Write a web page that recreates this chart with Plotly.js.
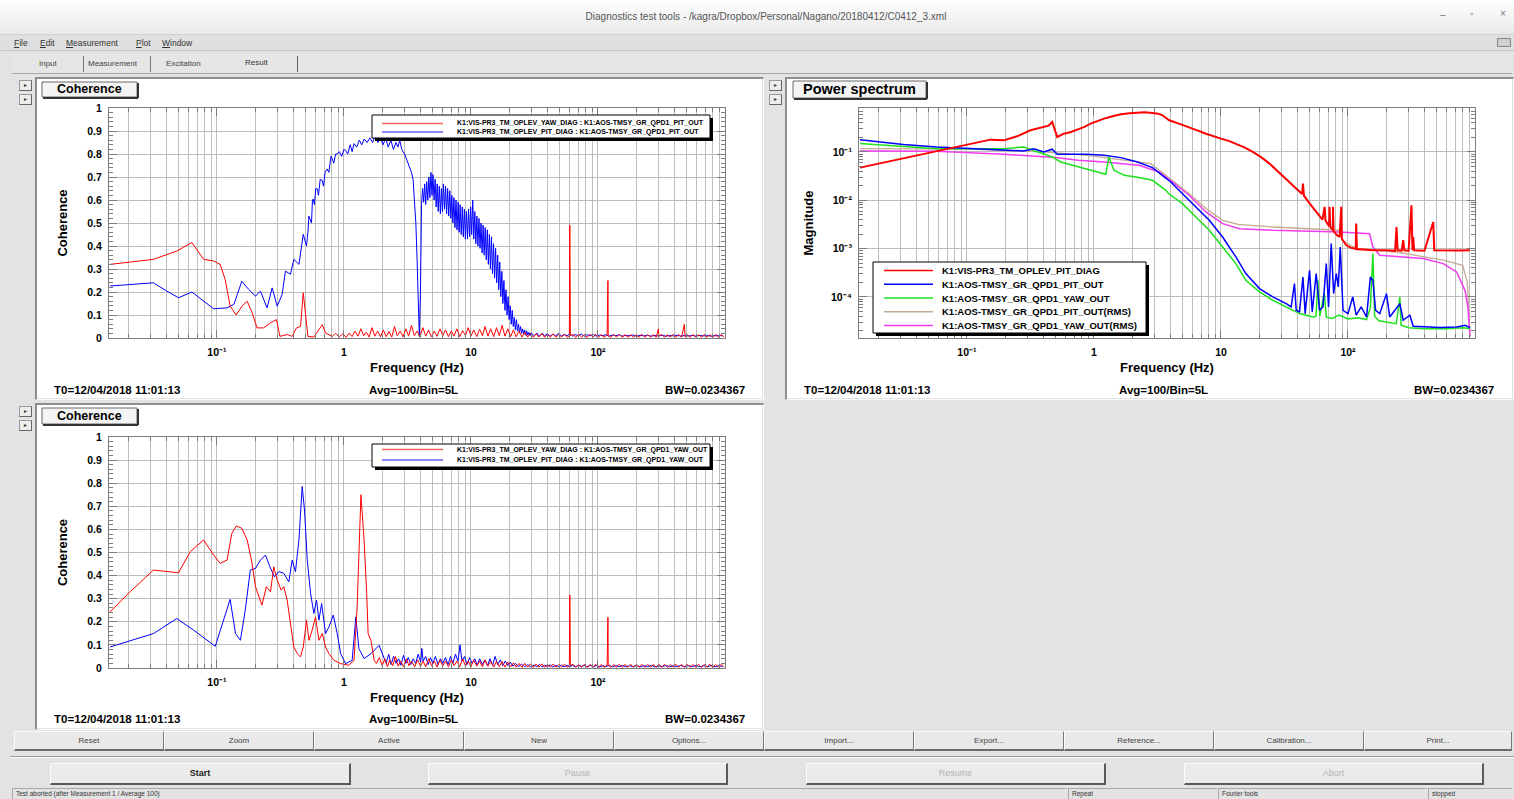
<!DOCTYPE html>
<html>
<head>
<meta charset="utf-8">
<title>Diagnostics test tools</title>
<script src="https://cdn.plot.ly/plotly-3.0.1.min.js"></script>
<style>
  * { box-sizing: border-box; }
  html, body { margin:0; padding:0; }
  body { width:1514px; height:799px; overflow:hidden; position:relative; background:#e3e3e3; font-family:'Liberation Sans', Arial, sans-serif; color:#333; }
  .a { position:absolute; white-space:nowrap; }
  .btn1 { position:absolute; top:731px; height:20px; background:#e9e9e9; border-top:1px solid #fbfbfb; border-left:1px solid #fbfbfb; border-right:1px solid #777; border-bottom:2px solid #6a6a6a; font-size:8px; text-align:center; line-height:17px; color:#444; }
  .btn2 { position:absolute; top:763px; height:22px; background:#ebebeb; border-top:1px solid #fbfbfb; border-left:1px solid #fbfbfb; border-right:2px solid #5a5a5a; border-bottom:2px solid #5a5a5a; font-size:9px; text-align:center; line-height:19px; color:#b4b4b4; }
  .mini { position:absolute; width:13px; height:11px; background:#ededed; border:1px solid #9a9a9a; border-right-color:#666; border-bottom-color:#666; font-size:6px; line-height:9px; text-align:center; color:#333; }
  .frame { position:absolute; border-top:2px solid #8e8e8e; border-left:2px solid #8e8e8e; border-right:1px solid #fafafa; border-bottom:1px solid #fafafa; }
  .plot { position:absolute; background:#fff; }
  .status { position:absolute; top:788px; height:11px; font-size:6.5px; line-height:10px; color:#333; border-top:1px solid #a8a8a8; border-left:1px solid #a8a8a8; padding-left:3px; white-space:nowrap; overflow:hidden; }
</style>
</head>
<body>
<!-- window title bar -->
<div class="a" style="left:0;top:0;width:1514px;height:35px;background:linear-gradient(#ffffff,#e9e9e9);border-bottom:1px solid #d2d2d2;"></div>
<div class="a" style="left:0;top:11px;width:1532px;text-align:center;font-size:10px;color:#555;">Diagnostics test tools - /kagra/Dropbox/Personal/Nagano/20180412/C0412_3.xml</div>
<div class="a" style="left:1440px;top:9px;font-size:10px;color:#777;">–</div>
<div class="a" style="left:1470px;top:9px;font-size:9px;color:#777;">▫</div>
<div class="a" style="left:1500px;top:8px;font-size:10px;color:#777;">×</div>
<!-- menu bar -->
<div class="a" style="left:0;top:35px;width:1514px;height:16px;background:#dfdfdf;border-bottom:1px solid #c6c6c6;"></div>
<div class="a" style="left:14px;top:38px;font-size:8.5px;color:#333;"><u>F</u>ile</div>
<div class="a" style="left:40px;top:38px;font-size:8.5px;color:#333;"><u>E</u>dit</div>
<div class="a" style="left:66px;top:38px;font-size:8.5px;color:#333;"><u>M</u>easurement</div>
<div class="a" style="left:136px;top:38px;font-size:8.5px;color:#333;"><u>P</u>lot</div>
<div class="a" style="left:162px;top:38px;font-size:8.5px;color:#333;"><u>W</u>indow</div>
<div class="a" style="left:1497px;top:38px;width:14px;height:9px;border:1px solid #888;background:#d0d0d0;"></div>
<!-- tabs -->
<div class="a" style="left:12px;top:53px;width:1500px;height:21px;background:#e6e6e6;border-bottom:1px solid #a8a8a8;"></div>
<div class="a" style="left:39px;top:59px;font-size:8px;color:#444;">Input</div>
<div class="a" style="left:83px;top:56px;width:1px;height:16px;background:#777;"></div>
<div class="a" style="left:88px;top:59px;font-size:8px;color:#444;">Measurement</div>
<div class="a" style="left:150px;top:56px;width:1px;height:16px;background:#777;"></div>
<div class="a" style="left:166px;top:59px;font-size:8px;color:#444;">Excitation</div>
<div class="a" style="left:245px;top:58px;font-size:8px;color:#333;">Result</div>
<div class="a" style="left:297px;top:56px;width:1px;height:16px;background:#666;"></div>

<!-- canvas frames and mini buttons -->
<div class="frame" style="left:35px;top:77px;width:729px;height:323px;"></div>
<div class="frame" style="left:785px;top:77px;width:729px;height:323px;"></div>
<div class="frame" style="left:35px;top:403px;width:729px;height:327px;"></div>
<div class="mini" style="left:19px;top:80px;">▸</div>
<div class="mini" style="left:19px;top:94px;">▸</div>
<div class="mini" style="left:769px;top:80px;">▸</div>
<div class="mini" style="left:769px;top:94px;">▸</div>
<div class="mini" style="left:19px;top:406px;">▸</div>
<div class="mini" style="left:19px;top:420px;">▸</div>

<div id="p1" class="plot" style="left:37px;top:79px;width:725px;height:319px;"></div>
<div id="p2" class="plot" style="left:787px;top:79px;width:725px;height:319px;"></div>
<div id="p3" class="plot" style="left:37px;top:405px;width:725px;height:323px;"></div>

<!-- button rows -->
<div class="btn1" style="left:14px;width:150px;">Reset</div>
<div class="btn1" style="left:164px;width:150px;">Zoom</div>
<div class="btn1" style="left:314px;width:150px;">Active</div>
<div class="btn1" style="left:464px;width:150px;">New</div>
<div class="btn1" style="left:614px;width:150px;">Options...</div>
<div class="btn1" style="left:764px;width:150px;">Import...</div>
<div class="btn1" style="left:914px;width:150px;">Export...</div>
<div class="btn1" style="left:1064px;width:150px;">Reference...</div>
<div class="btn1" style="left:1214px;width:150px;">Calibration...</div>
<div class="btn1" style="left:1364px;width:148px;">Print...</div>
<div class="a" style="left:10px;top:756px;width:1504px;height:2px;border-top:1px solid #9a9a9a;border-bottom:1px solid #fafafa;"></div>
<div class="btn2" style="left:50px;width:301px;color:#222;font-weight:bold;">Start</div>
<div class="btn2" style="left:428px;width:300px;">Pause</div>
<div class="btn2" style="left:806px;width:300px;">Resume</div>
<div class="btn2" style="left:1184px;width:300px;">Abort</div>
<!-- status bar -->
<div class="status" style="left:12px;width:1055px;">Test aborted (after Measurement 1 / Average 100)</div>
<div class="status" style="left:1068px;width:149px;">Repeat</div>
<div class="status" style="left:1218px;width:209px;">Fourier tools</div>
<div class="status" style="left:1428px;width:84px;">stopped</div>

<script>
// ---------------- data ----------------
// Top coherence panel
const coh1_f_red = [
  0.0144,0.0316,0.0483,0.0635,0.0785,0.0942,0.106,0.116,0.127,0.142,
  0.157,0.173,0.189,0.207,0.233,0.264,0.294,0.313,0.357,0.391,
  0.423,0.455,0.478,0.498,0.520,0.579,0.675,0.716,0.809,
  0.86,0.92,0.98,1.04,1.1,1.16,1.22,1.29,1.36,1.43,
  1.5,1.58,1.66,1.75,1.84,1.94,2.04,2.15,2.26,2.38,
  2.5,2.63,2.77,2.92,3.07,3.23,3.4,3.58,3.77,3.97,
  4.18,4.4,4.63,4.88,5.14,5.41,5.7,6.0,6.3,6.65,
  7.0,7.35,7.75,8.15,8.6,9.05,9.5,10,10.5,11.1,
  11.7,12.3,12.9,13.6,14.3,15.1,15.9,16.7,17.6,18.5,
  19.5,20.5,21.6,22.7,23.9,25.2,26.5,27.9,29.4,
  31,32.6,34.3,36.1,38,40,42.1,44.3,46.7,49.2,
  51.8,54.5,57.4,59.5,60,60.6,63.6,67,70.5,74.3,
  78.2,82.3,86.7,91.3,96.1,101,106,112,118,119.7,
  120.4,126,133,140,147,155,163,172,181,190,
  200,211,222,234,246,259,273,287,299,302,
  318,335,352,371,390,411,433,455,479,485,
  505,531,559,589,620,653,687,723,761,801,
  843,888,935,985];
const coh1_red = [
  0.32,0.342,0.378,0.415,0.342,0.335,0.32,0.255,0.138,0.10,
  0.138,0.16,0.11,0.044,0.044,0.066,0.08,0.007,0.015,0.007,
  0.044,0.05,0.197,0.11,0.007,0.004,0.058,0.022,0.007,
  0.02,0.005,0.018,0.003,0.022,0.006,0.03,0.008,0.04,0.01,
  0.025,0.004,0.045,0.008,0.03,0.005,0.035,0.006,0.028,0.004,
  0.05,0.01,0.03,0.005,0.04,0.008,0.055,0.01,0.03,0.006,
  0.045,0.008,0.035,0.005,0.03,0.007,0.04,0.01,0.035,0.006,
  0.03,0.008,0.04,0.006,0.032,0.01,0.045,0.008,0.035,0.006,
  0.038,0.01,0.05,0.008,0.04,0.006,0.045,0.01,0.055,0.008,
  0.04,0.006,0.035,0.005,0.03,0.004,0.025,0.004,0.02,
  0.003,0.018,0.004,0.02,0.003,0.016,0.004,0.018,0.003,0.015,
  0.004,0.017,0.003,0.01,0.49,0.01,0.015,0.003,0.016,0.004,
  0.014,0.003,0.016,0.004,0.015,0.003,0.014,0.004,0.012,0.25,
  0.01,0.003,0.015,0.004,0.016,0.003,0.014,0.004,0.015,0.003,
  0.014,0.004,0.016,0.003,0.014,0.004,0.015,0.003,0.04,0.008,
  0.015,0.003,0.014,0.004,0.016,0.003,0.014,0.004,0.06,0.005,
  0.014,0.003,0.015,0.004,0.014,0.003,0.015,0.004,0.014,0.003,
  0.015,0.004,0.014,0.005];

const coh1_f_blue = [
  0.0144,0.0316,0.0403,0.0498,0.0635,0.0762,0.0942,0.12,0.136,0.157,
  0.178,0.201,0.22,0.248,0.272,0.298,0.326,0.346,0.379,0.403,
  0.442,0.478,0.507,0.52,0.53,0.54,0.555,0.565,0.573,0.585,
  0.6,0.617,0.63,0.65,0.675,0.69,0.71,0.738,0.76,0.79,
  0.809,0.83,0.86,0.885,0.92,0.96,1.0,1.03,1.07,1.12,
  1.16,1.2,1.26,1.32,1.38,1.44,1.52,1.6,1.68,1.76,
  1.85,1.94,2.03,2.13,2.23,2.34,2.45,2.57,2.66,2.75,
  2.85,3.0,3.1,3.2,3.3,3.4,3.5,3.6,3.68,3.76,
  3.85,3.92,4.0,4.05,
  4.08,4.16,4.24,4.32,4.4,4.48,4.57,4.66,4.75,4.84,
  4.93,5.02,5.12,5.22,5.32,5.42,5.52,5.63,5.74,5.85,
  5.96,6.07,6.19,6.31,6.43,6.55,6.68,6.81,6.94,7.07,
  7.2,7.34,7.48,7.62,7.77,7.92,8.07,8.22,8.38,8.54,
  8.7,8.87,9.04,9.21,9.39,9.57,9.75,9.94,10.13,10.32,
  10.52,10.72,10.92,11.13,11.34,11.56,11.78,12.0,12.23,12.46,
  12.7,12.94,13.19,13.44,13.7,13.96,14.22,14.49,14.77,15.05,
  15.34,15.63,15.93,16.23,16.54,16.85,17.17,17.5,17.83,18.17,
  18.52,18.87,19.23,19.6,19.97,20.35,20.74,21.13,21.53,21.94,
  22.36,22.79,23.22,23.66,24.11,24.57,25.04,25.52,26.0,26.5,
  27.0,27.5,28.0,28.6,29.2,29.8,
  31.5,33,34.6,36.3,38,40,42,44,46.5,49,
  51.5,54,57,60,63,66,70,74,78,82,
  87,92,97,103,109,115,122,130,138,147,
  156,166,177,189,201,215,230,246,263,281,
  300,321,343,367,393,420,450,482,516,553,
  592,634,679,727,779,834,893,956];
const coh1_blue = [
  0.226,0.24,0.204,0.175,0.2,0.167,0.127,0.131,0.146,0.247,
  0.211,0.182,0.204,0.131,0.218,0.138,0.189,0.291,0.277,0.342,
  0.32,0.451,0.40,0.46,0.53,0.517,0.50,0.6,0.604,0.58,
  0.65,0.648,0.62,0.69,0.684,0.66,0.72,0.735,0.72,0.79,
  0.779,0.76,0.80,0.80,0.81,0.79,0.82,0.815,0.80,0.84,
  0.81,0.845,0.83,0.86,0.84,0.865,0.85,0.87,0.85,0.88,
  0.85,0.87,0.84,0.87,0.83,0.86,0.82,0.85,0.83,0.86,
  0.82,0.80,0.78,0.76,0.74,0.72,0.69,0.6,0.5,0.35,
  0.2,0.007,0.2,0.55,
  0.58,0.65,0.59,0.67,0.58,0.68,0.6,0.7,0.61,0.72,
  0.62,0.71,0.6,0.69,0.57,0.67,0.55,0.66,0.54,0.65,
  0.55,0.67,0.56,0.66,0.54,0.65,0.53,0.64,0.52,0.62,
  0.5,0.61,0.48,0.6,0.47,0.59,0.46,0.58,0.45,0.57,
  0.44,0.56,0.43,0.55,0.43,0.56,0.44,0.57,0.45,0.6,
  0.43,0.55,0.41,0.53,0.4,0.52,0.39,0.5,0.37,0.49,
  0.36,0.48,0.34,0.47,0.32,0.45,0.3,0.44,0.28,0.41,
  0.26,0.39,0.24,0.36,0.21,0.33,0.18,0.29,0.15,0.25,
  0.12,0.21,0.1,0.18,0.08,0.14,0.06,0.12,0.05,0.09,
  0.035,0.08,0.03,0.06,0.025,0.05,0.02,0.04,0.015,0.035,
  0.012,0.03,0.012,0.025,0.01,0.022,
  0.01,0.022,0.008,0.02,0.01,0.018,0.008,0.016,0.009,0.02,
  0.008,0.015,0.01,0.018,0.008,0.015,0.01,0.017,0.008,0.014,
  0.01,0.015,0.008,0.013,0.01,0.014,0.008,0.013,0.01,0.014,
  0.008,0.012,0.009,0.013,0.008,0.012,0.009,0.012,0.008,0.011,
  0.009,0.012,0.008,0.011,0.009,0.012,0.008,0.011,0.009,0.011,
  0.008,0.011,0.009,0.011,0.008,0.01,0.009,0.01];

// Bottom coherence panel
const coh2_f_red = [
  0.0144,0.0207,0.0316,0.0403,0.0498,0.0617,0.0785,0.0942,0.106,0.12,
  0.131,0.142,0.157,0.173,0.189,0.201,0.213,0.226,0.245,0.264,
  0.28,0.298,0.32,0.336,0.357,0.379,0.403,0.429,0.455,0.478,
  0.507,0.53,0.562,0.597,0.635,0.675,0.716,0.762,0.834,0.942,
  1.09,1.2,1.27,1.36,1.44,1.51,1.55,1.63,1.73,
  1.8,1.9,2.0,2.1,2.2,2.3,2.42,2.54,2.67,2.8,
  2.95,3.1,3.25,3.4,3.6,3.8,4.0,4.2,4.4,4.65,
  4.9,5.15,5.4,5.7,6.0,6.3,6.65,7.0,7.35,7.75,
  8.15,8.6,9.05,9.5,10,10.5,11.1,11.7,12.3,12.9,
  13.6,14.3,15.1,15.9,16.7,17.6,18.5,19.5,20.5,21.6,
  22.7,23.9,25.2,26.5,27.9,29.4,31,32.6,34.3,36.1,
  38,40,42.1,44.3,46.7,49.2,51.8,54.5,57.4,
  59.5,60,60.6,63.6,67,70.5,74.3,78.2,82.3,86.7,
  91.3,96.1,101,106,112,118,119.7,120.4,126,133,
  140,147,155,163,172,181,190,200,211,222,
  234,246,259,273,287,302,318,335,352,371,
  390,411,433,455,479,505,531,559,589,620,
  653,687,723,761,801,843,888,935,985];
const coh2_red = [
  0.243,0.33,0.424,0.417,0.412,0.504,0.554,0.489,0.453,0.467,
  0.583,0.615,0.605,0.554,0.453,0.352,0.308,0.272,0.352,0.33,
  0.438,0.381,0.337,0.352,0.294,0.192,0.091,0.062,0.048,0.091,
  0.207,0.12,0.164,0.221,0.12,0.149,0.091,0.062,0.033,0.019,
  0.012,0.033,0.265,0.75,0.554,0.323,0.149,0.12,0.033,
  0.02,0.045,0.01,0.04,0.005,0.035,0.01,0.05,0.008,0.03,
  0.005,0.04,0.01,0.03,0.005,0.035,0.008,0.03,0.005,0.04,
  0.01,0.03,0.004,0.035,0.008,0.03,0.005,0.035,0.01,0.03,
  0.005,0.04,0.008,0.03,0.005,0.035,0.008,0.03,0.005,0.035,
  0.008,0.03,0.004,0.03,0.006,0.028,0.004,0.025,0.005,0.022,
  0.004,0.02,0.003,0.02,0.004,0.018,0.003,0.017,0.004,0.018,
  0.003,0.016,0.004,0.017,0.003,0.016,0.004,0.017,0.003,
  0.012,0.316,0.01,0.016,0.003,0.015,0.004,0.016,0.003,0.015,
  0.004,0.016,0.003,0.015,0.004,0.013,0.22,0.012,0.003,0.015,
  0.004,0.016,0.003,0.015,0.004,0.016,0.003,0.015,0.004,0.016,
  0.003,0.015,0.004,0.016,0.003,0.015,0.004,0.016,0.003,0.015,
  0.004,0.016,0.003,0.015,0.004,0.016,0.003,0.015,0.004,0.016,
  0.003,0.015,0.004,0.016,0.003,0.015,0.004,0.016,0.005];

const coh2_f_blue = [
  0.0144,0.0316,0.0483,0.0655,0.097,0.113,0.127,0.14,0.153,0.167,
  0.183,0.201,0.22,0.241,0.261,0.284,0.307,0.336,0.368,0.391,
  0.415,0.442,0.469,0.489,0.514,0.546,0.579,0.608,0.635,0.667,
  0.716,0.762,0.824,0.885,0.942,1.03,1.16,1.24,1.31,1.44,
  1.63,1.89,2.07,
  2.15,2.25,2.35,2.46,2.57,2.69,2.81,2.94,3.07,3.21,
  3.36,3.51,3.67,3.84,4.02,4.1,4.2,4.4,4.6,4.8,
  5.0,5.25,5.5,5.75,6.0,6.3,6.6,6.9,7.2,7.55,
  7.9,8.2,8.5,8.9,9.3,9.75,10.2,10.7,11.2,11.7,
  12.3,12.9,13.5,14.1,14.8,15.5,16.2,17,17.8,18.6,
  19.5,20.4,21.4,22.4,23.5,
  25,26.5,28,29.5,31.5,33,34.6,36.3,38,40,
  42,44,46.5,49,51.5,54,57,60,63,66,
  70,74,78,82,87,92,97,103,109,115,
  122,130,138,147,156,166,177,189,201,215,
  230,246,263,281,300,321,343,367,393,420,
  450,482,516,553,592,634,679,727,779,834,
  893,956];
const coh2_blue = [
  0.091,0.149,0.214,0.164,0.094,0.207,0.297,0.149,0.12,0.25,
  0.424,0.431,0.467,0.489,0.438,0.395,0.417,0.41,0.373,0.467,
  0.417,0.554,0.786,0.684,0.467,0.323,0.236,0.294,0.207,0.279,
  0.149,0.178,0.229,0.149,0.062,0.019,0.033,0.221,0.084,0.041,
  0.062,0.098,0.041,
  0.02,0.06,0.015,0.05,0.02,0.04,0.012,0.055,0.02,0.045,
  0.015,0.04,0.02,0.06,0.025,0.085,0.03,0.05,0.015,0.045,
  0.02,0.05,0.015,0.04,0.02,0.045,0.015,0.05,0.02,0.06,
  0.03,0.1,0.03,0.05,0.015,0.045,0.02,0.04,0.012,0.04,
  0.015,0.035,0.01,0.04,0.012,0.05,0.015,0.035,0.01,0.03,
  0.01,0.025,0.008,0.02,0.006,
  0.016,0.006,0.014,0.005,0.013,0.006,0.015,0.005,0.012,0.006,
  0.014,0.005,0.012,0.006,0.013,0.005,0.012,0.006,0.011,0.005,
  0.012,0.006,0.011,0.005,0.012,0.006,0.011,0.005,0.01,0.006,
  0.011,0.005,0.01,0.006,0.011,0.005,0.01,0.006,0.011,0.005,
  0.01,0.006,0.011,0.005,0.01,0.006,0.011,0.005,0.01,0.006,
  0.011,0.005,0.01,0.006,0.011,0.005,0.01,0.006,0.011,0.005,
  0.01,0.006];

// Power spectrum panel
const psd_f_red = [
  0.0144,0.0233,0.0379,0.0579,0.0834,0.12,0.153,0.195,0.248,0.316,
  0.403,0.44,0.469,0.49,0.514,0.579,0.66,0.738,0.84,0.942,
  1.07,1.2,1.4,1.63,1.9,2.2,2.5,2.89,3.2,3.46,
  3.7,3.91,4.6,5.62,6.5,7.62,8.7,10,11.5,13.1,
  15.3,17.8,20.7,24.1,28,32.6,38,43.5,44.2,45,
  50,56.2,63,65.5,66.5,71,71.6,72.5,76,76.2,
  77,82,85.9,88.5,89.5,97,105,115,116,117.5,
  130,157,200,235,241,246,265,272,278,300,
  316,322,326,332,400,469,478,600,750,912];
const psd_red = [
  0.0474,0.0621,0.0813,0.105,0.127,0.153,0.18,0.174,0.211,0.281,
  0.329,0.35,0.418,0.3,0.204,0.239,0.26,0.29,0.33,0.385,
  0.44,0.49,0.55,0.601,0.63,0.652,0.66,0.641,0.62,0.574,
  0.5,0.452,0.39,0.329,0.28,0.239,0.21,0.189,0.17,0.149,
  0.125,0.1,0.078,0.0574,0.04,0.0281,0.0185,0.0135,0.0221,0.0125,
  0.0085,0.00574,0.004,0.0073,0.0038,0.0029,0.0073,0.0028,0.0024,0.0073,
  0.0023,0.0019,0.00174,0.0073,0.0016,0.00117,0.00105,0.00098,0.00329,0.00098,
  0.00095,0.00092,0.00093,0.0009,0.0028,0.00092,0.00091,0.0015,0.00092,0.0009,
  0.00789,0.00093,0.00174,0.00092,0.0009,0.00356,0.00092,0.0009,0.00091,0.00092];

const psd_f_blue = [
  0.0144,0.0316,0.0579,0.106,0.195,0.28,0.336,0.403,0.469,0.514,
  0.655,0.885,1.2,1.63,2.2,2.89,3.57,4.03,4.98,6.35,
  8.09,10.3,13.1,15.7,20.1,25.6,28.9,32.6,35.7,37.9,
  39.1,41.5,44.2,46,49.8,52.3,56.2,59.7,63.5,67.5,
  70.3,73.8,77.1,80.9,83.9,86.9,91.4,100,109,116,
  127,140,150,157,165,178,201,213,234,256,
  272,307,326,391,530,716,834,914];
const psd_blue = [
  0.18,0.142,0.127,0.117,0.108,0.105,0.117,0.1,0.114,0.0895,
  0.0895,0.0895,0.0853,0.0764,0.0621,0.0474,0.0304,0.0239,0.0137,0.00728,
  0.00385,0.00174,0.000673,0.000304,0.000149,0.0001,8.53e-5,7.28e-5,6.21e-5,1.89e-4,
  5.3e-5,4.9e-5,2.59e-4,4.52e-5,3.56e-4,4.9e-5,3.04e-4,5.3e-5,6.21e-5,4.9e-4,
  6.21e-5,1.27e-3,1.17e-4,3.04e-4,1.61e-4,1.08e-3,5.3e-5,4.52e-5,1e-4,4.18e-5,
  6.21e-5,3.85e-5,2.59e-4,2.21e-4,5.3e-5,4.52e-5,1.17e-4,3.85e-5,5.3e-5,7.28e-5,
  3.29e-5,4.18e-5,2.47e-5,2.4e-5,2.32e-5,2.4e-5,2.59e-5,2.32e-5];

const psd_f_green = [
  0.0144,0.0316,0.0579,0.106,0.195,0.28,0.357,0.469,0.546,0.738,
  1.13,1.24,1.31,1.44,1.73,2.2,2.89,3.68,3.9,4.03,
  4.98,6.35,8.09,10.3,13.1,15.7,20.1,25.6,32.6,41.5,
  53,56,58,60,65,67.5,75,85,100,120,
  140,150,157,162,175,200,240,250,256,262,
  300,400,600,800,914];
const psd_green = [
  0.149,0.131,0.117,0.117,0.117,0.127,0.1,0.0789,0.0621,0.0505,
  0.0368,0.0345,0.0789,0.0418,0.0329,0.03,0.0259,0.0161,0.0135,0.0127,
  0.00853,0.00452,0.00239,0.00108,0.00049,0.000221,0.000127,8.53e-5,6.21e-5,4.52e-5,
  3.85e-5,4e-5,2.21e-4,4e-5,1.2e-4,3.8e-5,3.6e-5,4.2e-5,3.5e-5,3.7e-5,
  3.4e-5,6e-5,7.89e-4,4e-5,3.2e-5,3e-5,2.8e-5,6e-5,1e-4,2.6e-5,
  2.3e-5,2.2e-5,2.2e-5,2.3e-5,2.21e-5];

const psd_f_tan = [
  0.0144,0.106,0.403,0.885,2.8,3.26,4.15,5.62,7.62,10.3,
  13.6,25.6,85.9,90,116,241,562,800,870,912];
const psd_tan = [
  0.117,0.114,0.1,0.0853,0.0574,0.0417,0.0259,0.0137,0.00673,0.00385,
  0.00316,0.0028,0.0024,0.00148,0.001,0.000851,0.000575,0.00045,0.0002,1.9e-5];

const psd_f_mag = [
  0.0144,0.0579,0.195,0.494,0.754,1.2,2.26,3.26,4.15,5.62,
  7.62,10.3,14,25.6,85.9,148,157,178,391,562,
  716,834,880,914];
const psd_mag = [
  0.105,0.103,0.0895,0.0764,0.0673,0.0621,0.053,0.0385,0.0239,0.0127,
  0.00574,0.00329,0.00259,0.0024,0.00221,0.00204,0.00108,0.000728,0.000621,0.00049,
  0.000329,0.000137,6e-5,1.49e-5];

// labels
const COH_TOP_NAMES = ['K1:VIS-PR3_TM_OPLEV_YAW_DIAG : K1:AOS-TMSY_GR_QPD1_PIT_OUT',
                       'K1:VIS-PR3_TM_OPLEV_PIT_DIAG : K1:AOS-TMSY_GR_QPD1_PIT_OUT'];
const COH_BOT_NAMES = ['K1:VIS-PR3_TM_OPLEV_YAW_DIAG : K1:AOS-TMSY_GR_QPD1_YAW_OUT',
                       'K1:VIS-PR3_TM_OPLEV_PIT_DIAG : K1:AOS-TMSY_GR_QPD1_YAW_OUT'];
const PSD_NAMES = ['K1:VIS-PR3_TM_OPLEV_PIT_DIAG','K1:AOS-TMSY_GR_QPD1_PIT_OUT','K1:AOS-TMSY_GR_QPD1_YAW_OUT',
                   'K1:AOS-TMSY_GR_QPD1_PIT_OUT(RMS)','K1:AOS-TMSY_GR_QPD1_YAW_OUT(RMS)'];
const FREQ_TICKS = [0.1, 1, 10, 100];
const FREQ_TICK_TEXT = ['10\u207B\u00B9','1','10','10\u00B2'];
const MAG_TICKS = [1e-4, 1e-3, 1e-2, 1e-1];
const MAG_TICK_TEXT = ['10\u207B\u2074','10\u207B\u00B3','10\u207B\u00B2','10\u207B\u00B9'];
const INFO_T0 = 'T0=12/04/2018 11:01:13';
const INFO_AVG = 'Avg=100/Bin=5L';
const INFO_BW = 'BW=0.0234367';

// ---------------- styling ----------------
const FONT = 'Liberation Sans, Arial, sans-serif';
const GRID = '#bdbdbd';
const FRAME = '#7c7c7c';
const RED = '#ff0000', BLUE = '#0000ff', GREEN = '#1ee01e', TAN = '#c4ab92', MAG = '#f03cf0';

function minorLog(lo, hi){ const v=[]; for(let d=lo; d<=hi; d++) for(let k=2;k<=9;k++) v.push(k*Math.pow(10,d)); return v; }
function tfont(s){ return {family:FONT, size:s, color:'#000', weight:'bold'}; }

function xAxis(){
  return {type:'log', range:[-1.85, 3.0], autorange:false,
    tickmode:'array', tickvals:FREQ_TICKS, ticktext:FREQ_TICK_TEXT,
    ticks:'inside', ticklen:8, tickwidth:1, tickcolor:FRAME,
    showline:true, linecolor:FRAME, linewidth:1, mirror:'allticks',
    showgrid:true, gridcolor:GRID, gridwidth:1, zeroline:false,
    ticklabelstandoff:4, tickfont:tfont(10.5),
    minor:{tickmode:'array', tickvals:minorLog(-2,2), ticks:'inside', ticklen:4, tickcolor:FRAME, showgrid:true, gridcolor:GRID, gridwidth:1},
    title:{text:'Frequency (Hz)', font:tfont(13), standoff:6},
    automargin:false, fixedrange:true};
}
function yCoh(){
  return {range:[0,1], autorange:false, tickmode:'linear', tick0:0, dtick:0.1,
    ticks:'inside', ticklen:8, tickcolor:FRAME,
    showline:true, linecolor:FRAME, linewidth:1, mirror:'allticks',
    showgrid:true, gridcolor:GRID, gridwidth:1, zeroline:false,
    ticklabelstandoff:4, tickfont:tfont(10.5),
    minor:{tick0:0, dtick:0.02, ticks:'inside', ticklen:4, tickcolor:FRAME, showgrid:false},
    title:{text:'Coherence', font:tfont(13), standoff:16},
    automargin:false, fixedrange:true};
}
function yMag(){
  return {type:'log', range:[-4.85,-0.09], autorange:false,
    tickmode:'array', tickvals:MAG_TICKS, ticktext:MAG_TICK_TEXT,
    ticks:'inside', ticklen:8, tickcolor:FRAME,
    showline:true, linecolor:FRAME, linewidth:1, mirror:'allticks',
    showgrid:true, gridcolor:GRID, gridwidth:1, zeroline:false,
    ticklabelstandoff:4, tickfont:tfont(10.5),
    minor:{tickmode:'array', tickvals:minorLog(-5,-1), ticks:'inside', ticklen:4, tickcolor:FRAME, showgrid:false},
    title:{text:'Magnitude', font:tfont(13), standoff:14},
    automargin:false, fixedrange:true};
}

function conv(p){
  const pw = p.W - p.m.l - p.m.r, ph = p.H - p.m.t - p.m.b;
  return { x: ax => (ax - p.left - p.m.l)/pw, y: ay => 1 - (ay - p.top - p.m.t)/ph };
}
function R(c, x0, y0, x1, y1, fill, line){
  return {type:'rect', xref:'paper', yref:'paper', x0:c.x(x0), x1:c.x(x1), y0:c.y(y0), y1:c.y(y1), fillcolor:fill, line:line, layer:'above'};
}
function L(c, x0, y0, x1, y1, color, w){
  return {type:'line', xref:'paper', yref:'paper', x0:c.x(x0), x1:c.x(x1), y0:c.y(y0), y1:c.y(y1), line:{color:color, width:w}, layer:'above'};
}
function titleBox(c, b, text, size, shapes, anns){
  shapes.push(R(c, b.x0, b.y0, b.x1, b.y1, '#f4f4f4', {color:'#6a6a6a', width:1}));
  shapes.push(L(c, b.x0+1, b.y1+1, b.x1+1, b.y1+1, '#333', 2));
  shapes.push(L(c, b.x1+1, b.y0+1, b.x1+1, b.y1+1, '#333', 2));
  anns.push({xref:'paper', yref:'paper', x:c.x((b.x0+b.x1)/2), y:c.y((b.y0+b.y1)/2), xanchor:'center', yanchor:'middle', text:text, showarrow:false, font:tfont(size)});
}
function legendBox(c, g, items, shapes, anns){
  shapes.push(R(c, g.x0+3, g.y0+3, g.x1+3, g.y1+3, '#000', {width:0}));
  shapes.push(R(c, g.x0, g.y0, g.x1, g.y1, '#fff', {color:'#000', width:1}));
  items.forEach((it, i) => {
    const y = g.ys[i];
    shapes.push(L(c, g.lx0, y, g.lx1, y, it.color, g.lw));
    anns.push({xref:'paper', yref:'paper', x:c.x(g.tx), y:c.y(y), xanchor:'left', yanchor:'middle', text:it.label, showarrow:false, font:tfont(g.fs)});
  });
}
function infoTexts(c, yAbs, xs, anns){
  anns.push({xref:'paper', yref:'paper', x:c.x(xs[0]), y:c.y(yAbs), xanchor:'left', yanchor:'middle', text:INFO_T0, showarrow:false, font:tfont(11.5)});
  anns.push({xref:'paper', yref:'paper', x:c.x(xs[1]), y:c.y(yAbs), xanchor:'center', yanchor:'middle', text:INFO_AVG, showarrow:false, font:tfont(11.5)});
  anns.push({xref:'paper', yref:'paper', x:c.x(xs[2]), y:c.y(yAbs), xanchor:'right', yanchor:'middle', text:INFO_BW, showarrow:false, font:tfont(11.5)});
}
function line(x, y, name, color, w){
  return {type:'scatter', mode:'lines', x:x, y:y, name:name, line:{color:color, width:w}, hoverinfo:'skip'};
}
function render(id, p, traces, yaxis, tb, tbText, tbSize, lg, items, infoY, infoX){
  const c = conv(p); const shapes = [], anns = [];
  titleBox(c, tb, tbText, tbSize, shapes, anns);
  legendBox(c, lg, items, shapes, anns);
  infoTexts(c, infoY, infoX, anns);
  Plotly.newPlot(id, traces, {
    width:p.W, height:p.H, margin:{l:p.m.l, r:p.m.r, t:p.m.t, b:p.m.b, pad:0},
    paper_bgcolor:'#ffffff', plot_bgcolor:'#ffffff', showlegend:false,
    font:{family:FONT}, xaxis:xAxis(), yaxis:yaxis, shapes:shapes, annotations:anns
  }, {staticPlot:true, displayModeBar:false});
}

const P1 = {left:37, top:79, W:725, H:319, m:{l:72, r:37, t:29, b:60}};
const P2 = {left:787, top:79, W:725, H:319, m:{l:72, r:37, t:29, b:60}};
const P3 = {left:37, top:405, W:725, H:323, m:{l:72, r:37, t:32, b:60}};

render('p1', P1,
  [line(coh1_f_blue, coh1_blue, COH_TOP_NAMES[1], BLUE, 1), line(coh1_f_red, coh1_red, COH_TOP_NAMES[0], RED, 1)],
  yCoh(), {x0:42, y0:82, x1:137, y1:97}, 'Coherence', 12.5,
  {x0:372, y0:115, x1:710, y1:138, lx0:382, lx1:443, tx:455, ys:[123.5, 132], fs:7, lw:1.6},
  [{color:'#ff6060', label:COH_TOP_NAMES[0]}, {color:'#6060ff', label:COH_TOP_NAMES[1]}],
  390, [52, 413, 747]);

render('p2', P2,
  [line(psd_f_tan, psd_tan, PSD_NAMES[3], TAN, 1.3), line(psd_f_mag, psd_mag, PSD_NAMES[4], MAG, 1.5),
   line(psd_f_green, psd_green, PSD_NAMES[2], GREEN, 1.5), line(psd_f_blue, psd_blue, PSD_NAMES[1], BLUE, 1.5),
   line(psd_f_red, psd_red, PSD_NAMES[0], RED, 2)],
  yMag(), {x0:793, y0:81, x1:926, y1:98}, 'Power spectrum', 14.5,
  {x0:873, y0:262, x1:1146, y1:333, lx0:884, lx1:933, tx:940, ys:[270.5, 284.2, 298, 311.7, 325.5], fs:9.5, lw:1.5},
  [{color:RED, label:PSD_NAMES[0]}, {color:BLUE, label:PSD_NAMES[1]}, {color:GREEN, label:PSD_NAMES[2]},
   {color:TAN, label:PSD_NAMES[3]}, {color:MAG, label:PSD_NAMES[4]}],
  390, [802, 1163, 1496]);

render('p3', P3,
  [line(coh2_f_blue, coh2_blue, COH_BOT_NAMES[1], BLUE, 1), line(coh2_f_red, coh2_red, COH_BOT_NAMES[0], RED, 1)],
  yCoh(), {x0:42, y0:408, x1:137, y1:424}, 'Coherence', 12.5,
  {x0:372, y0:444, x1:710, y1:467, lx0:382, lx1:443, tx:455, ys:[449.5, 460], fs:7, lw:1.6},
  [{color:'#ff6060', label:COH_BOT_NAMES[0]}, {color:'#6060ff', label:COH_BOT_NAMES[1]}],
  719, [52, 413, 747]);
</script>
</body>
</html>
